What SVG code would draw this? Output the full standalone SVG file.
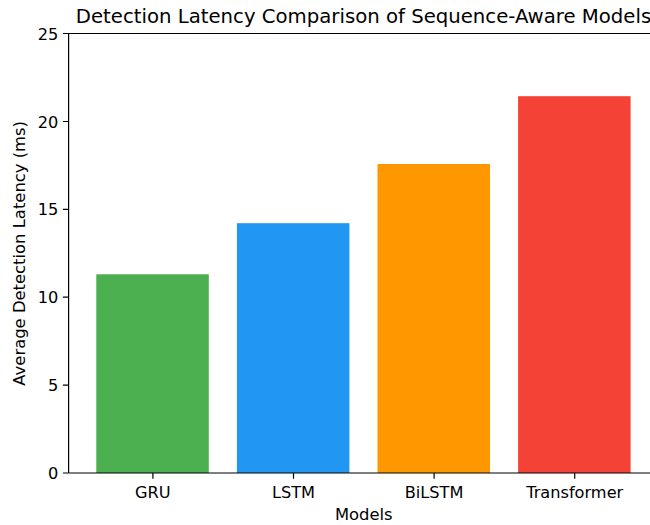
<svg xmlns="http://www.w3.org/2000/svg" width="650" height="525" viewBox="0 0 650 525">
<style>
text{font-family:"DejaVu Sans","Liberation Sans",sans-serif;fill:#000;}
.tick{font-size:16.2px;}
.ylab{text-anchor:end;}
.xlab{text-anchor:middle;}
.title{font-size:19.7px;text-anchor:middle;}
.axl{font-size:16.4px;text-anchor:middle;}
.sp{stroke:#000;stroke-width:1.2;fill:none;}
.tk{stroke:#000;stroke-width:1.2;}
</style>
<rect width="650" height="525" fill="#fff"/>
<g id="bars">
<rect id="bar-gru" x="96.3" y="274.3" width="112.5" height="198.7" fill="#4CAF50"/>
<rect id="bar-lstm" x="236.9" y="223.2" width="112.5" height="249.8" fill="#2196F3"/>
<rect id="bar-bilstm" x="377.5" y="164" width="112.5" height="309" fill="#FF9800"/>
<rect id="bar-transformer" x="518.1" y="96.2" width="112.5" height="376.8" fill="#F44336"/>
</g>
<g id="axes">
<path class="sp" d="M68.6,473 V33.5 H660 M68.6,473 H660"/>
<g id="yticks">
<path class="tk" d="M62.9,473H68.6M62.9,385.1H68.6M62.9,297.2H68.6M62.9,209.4H68.6M62.9,121.5H68.6M62.9,33.5H68.6"/>
<text class="tick ylab" x="58.3" y="479">0</text>
<text class="tick ylab" x="58.3" y="391.1">5</text>
<text class="tick ylab" x="58.3" y="303.2">10</text>
<text class="tick ylab" x="58.3" y="215.4">15</text>
<text class="tick ylab" x="58.3" y="127.5">20</text>
<text class="tick ylab" x="58.3" y="39.5">25</text>
</g>
<g id="xticks">
<path class="tk" d="M152.9,473V478.7M293.5,473V478.7M434.1,473V478.7M574.7,473V478.7"/>
<text class="tick xlab" x="152.9" y="498">GRU</text>
<text class="tick xlab" x="293.5" y="498">LSTM</text>
<text class="tick xlab" x="434.1" y="498">BiLSTM</text>
<text class="tick xlab" x="574.7" y="498">Transformer</text>
</g>
</g>
<text class="title" x="363.5" y="23.3">Detection Latency Comparison of Sequence-Aware Models</text>
<text class="axl" x="363.8" y="519.5">Models</text>
<text class="axl" transform="translate(25,253.3) rotate(-90)">Average Detection Latency (ms)</text>
</svg>
